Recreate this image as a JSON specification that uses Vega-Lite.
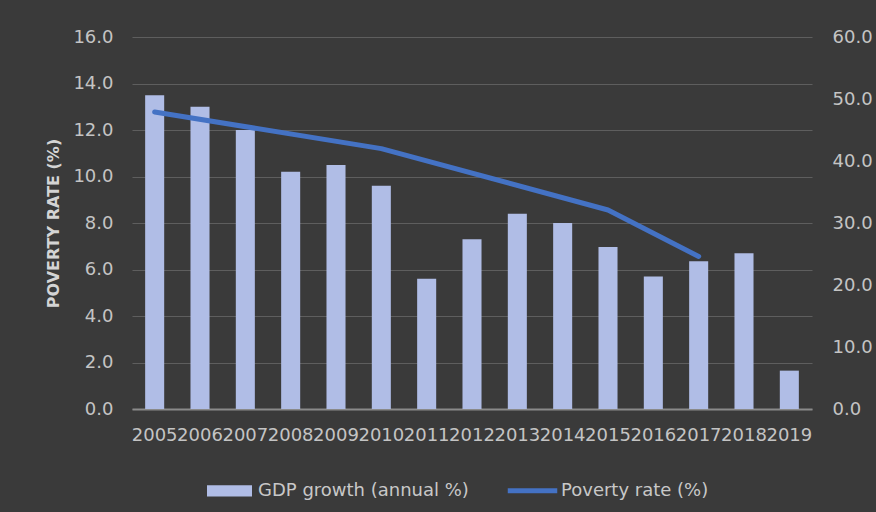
{
  "$schema": "https://vega.github.io/schema/vega-lite/v6.json",
  "width": 680,
  "height": 372,
  "autosize": "none",
  "padding": {"left": 132, "top": 37, "right": 64, "bottom": 103},
  "background": "#3a3a3a",
  "config": {
    "font": "DejaVu Sans",
    "view": {"stroke": null},
    "axis": {"labelFont": "DejaVu Sans", "titleFont": "DejaVu Sans"},
    "legend": {"labelFont": "DejaVu Sans"}
  },
  "data": {
    "values": [
      {"year": "2005", "gdp": 13.5, "poverty": 47.9},
      {"year": "2006", "gdp": 13.0, "poverty": null},
      {"year": "2007", "gdp": 12.0, "poverty": null},
      {"year": "2008", "gdp": 10.2, "poverty": null},
      {"year": "2009", "gdp": 10.5, "poverty": null},
      {"year": "2010", "gdp": 9.6, "poverty": 42.0},
      {"year": "2011", "gdp": 5.6, "poverty": null},
      {"year": "2012", "gdp": 7.3, "poverty": null},
      {"year": "2013", "gdp": 8.4, "poverty": null},
      {"year": "2014", "gdp": 8.0, "poverty": null},
      {"year": "2015", "gdp": 6.97, "poverty": 32.1},
      {"year": "2016", "gdp": 5.7, "poverty": null},
      {"year": "2017", "gdp": 6.35, "poverty": 24.6},
      {"year": "2018", "gdp": 6.7, "poverty": null},
      {"year": "2019", "gdp": 1.65, "poverty": null}
    ]
  },
  "encoding": {
    "x": {
      "field": "year",
      "type": "ordinal",
      "scale": {"paddingInner": 0.58, "paddingOuter": 0.29},
      "axis": {
        "title": null,
        "labelAngle": 0,
        "labelFontSize": 18,
        "labelColor": "#c4c4c4",
        "labelPadding": 17,
        "labelOverlap": false,
        "labelBound": false,
        "ticks": false,
        "domainColor": "#8a8a8a",
        "domainWidth": 2,
        "grid": false
      }
    }
  },
  "layer": [
    {
      "mark": {"type": "bar", "color": "#b0bde6"},
      "encoding": {
        "y": {
          "field": "gdp",
          "type": "quantitative",
          "scale": {"domain": [0, 16], "nice": false},
          "axis": {
            "title": "POVERTY RATE (%)",
            "titleColor": "#d4d4d4",
            "titleFontSize": 16,
            "titleFontWeight": "bold",
            "titlePadding": 11,
            "values": [0, 2, 4, 6, 8, 10, 12, 14, 16],
            "format": ".1f",
            "grid": true,
            "gridColor": "#5e5e5e",
            "gridWidth": 1,
            "domain": false,
            "ticks": false,
            "labelPadding": 19,
            "labelFontSize": 18,
            "labelColor": "#c4c4c4"
          }
        },
        "color": {
          "datum": "GDP growth (annual %)",
          "type": "nominal",
          "scale": {
            "domain": ["GDP growth (annual %)", "Poverty rate (%)"],
            "range": ["#b0bde6", "#4472c4"]
          },
          "legend": {
            "orient": "none",
            "legendX": 75,
            "legendY": 431,
            "direction": "horizontal",
            "title": null,
            "padding": 0,
            "labelFontSize": 18,
            "labelLimit": 400,
            "labelColor": "#c8c8c8",
            "symbolSize": 2025,
            "labelOffset": 6,
            "columnPadding": 38,
            "encode": {
              "symbols": {
                "update": {
                  "shape": {"signal": "datum.value === 'GDP growth (annual %)' ? 'M-1,-0.25H1V0.25H-1Z' : 'M-1.1,-0.11H1.1V0.11H-1.1Z'"},
                  "fill": {"signal": "scale('color', datum.value)"},
                  "strokeWidth": {"value": 0},
                  "opacity": {"value": 1}
                }
              }
            }
          }
        }
      }
    },
    {
      "transform": [{"filter": "isValid(datum.poverty)"}],
      "mark": {"type": "line", "strokeWidth": 5, "strokeCap": "round", "strokeJoin": "round"},
      "encoding": {
        "y": {
          "field": "poverty",
          "type": "quantitative",
          "scale": {"domain": [0, 60], "nice": false},
          "axis": {
            "orient": "right",
            "title": null,
            "values": [0, 10, 20, 30, 40, 50, 60],
            "format": ".1f",
            "grid": false,
            "domain": false,
            "ticks": false,
            "labelPadding": 20,
            "labelFontSize": 18,
            "labelColor": "#c4c4c4"
          }
        },
        "color": {"datum": "Poverty rate (%)", "type": "nominal"}
      }
    }
  ],
  "resolve": {"scale": {"y": "independent"}}
}
